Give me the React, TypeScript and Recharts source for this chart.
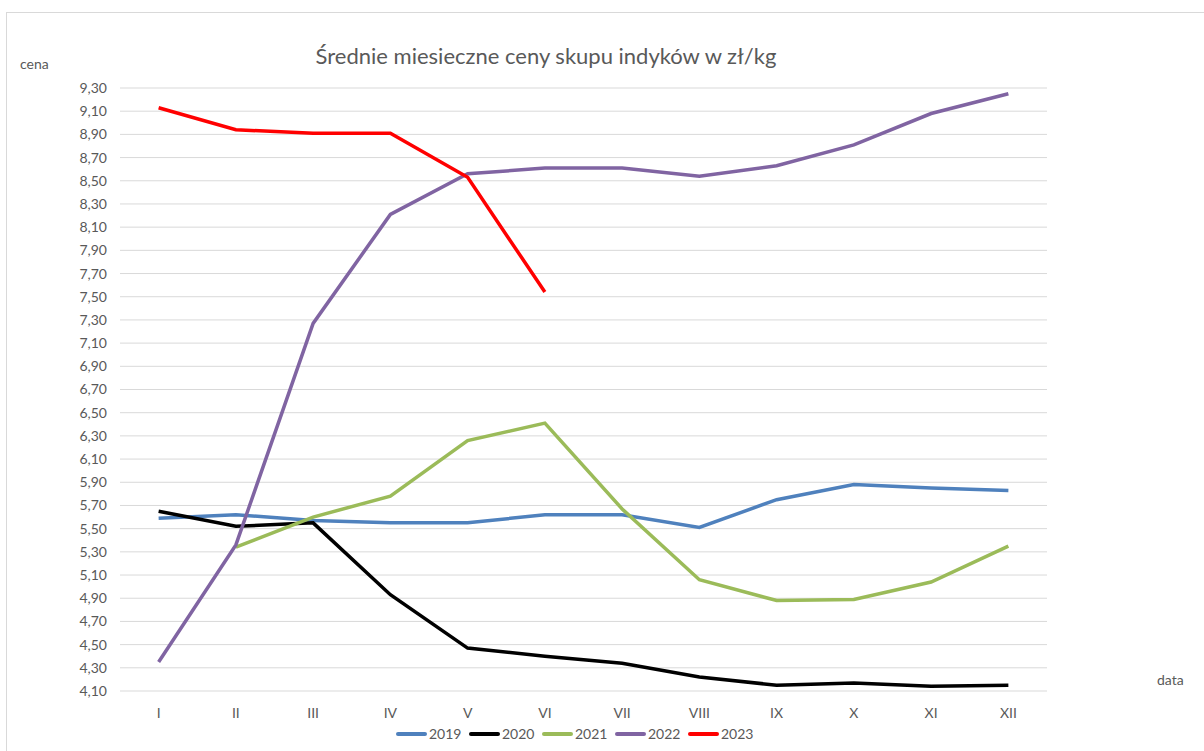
import { LineChart, Line, XAxis, YAxis, CartesianGrid } from 'recharts';

const months = ['I', 'II', 'III', 'IV', 'V', 'VI', 'VII', 'VIII', 'IX', 'X', 'XI', 'XII'];

const y2019 = [5.59, 5.62, 5.57, 5.55, 5.55, 5.62, 5.62, 5.51, 5.75, 5.88, 5.85, 5.83];
const y2020 = [5.65, 5.52, 5.55, 4.93, 4.47, 4.40, 4.34, 4.22, 4.15, 4.17, 4.14, 4.15];
const y2021 = [null, 5.34, 5.60, 5.78, 6.26, 6.41, 5.67, 5.06, 4.88, 4.89, 5.04, 5.35];
const y2022 = [4.35, 5.36, 7.27, 8.21, 8.56, 8.61, 8.61, 8.54, 8.63, 8.81, 9.08, 9.25];
const y2023 = [9.13, 8.94, 8.91, 8.91, 8.53, 7.54, null, null, null, null, null, null];

const yTicks = [4.1, 4.3, 4.5, 4.7, 4.9, 5.1, 5.3, 5.5, 5.7, 5.9, 6.1, 6.3, 6.5, 6.7, 6.9, 7.1, 7.3, 7.5, 7.7, 7.9, 8.1, 8.3, 8.5, 8.7, 8.9, 9.1, 9.3];

const series = [
  { key: 'y2019', name: '2019', color: '#4F81BD' },
  { key: 'y2020', name: '2020', color: '#000000' },
  { key: 'y2021', name: '2021', color: '#9BBB59' },
  { key: 'y2022', name: '2022', color: '#8064A2' },
  { key: 'y2023', name: '2023', color: '#FF0000' },
];

const data = months.map((m, i) => ({
  month: m,
  y2019: y2019[i],
  y2020: y2020[i],
  y2021: y2021[i],
  y2022: y2022[i],
  y2023: y2023[i],
}));

const FONT = 'Lato, "Open Sans", sans-serif';
const TEXT = '#595959';

// Excel style: categories sit in the middle of equal bands
const PLOT_W = 927;
const HALF_BAND = PLOT_W / months.length / 2;

export default function App() {
  return (
    <div style={{ position: 'absolute', left: 0, top: 0, width: 1204, height: 751, background: '#fff', overflow: 'hidden' }}>
      {/* chart frame */}
      <div style={{ position: 'absolute', left: 6, top: 12, width: 1200, height: 745, border: '1px solid #d9d9d9' }} />

      <div style={{ position: 'absolute', left: 546, top: 42, transform: 'translateX(-50%)', whiteSpace: 'nowrap', fontFamily: FONT, fontSize: 22, color: TEXT }}>
        Średnie miesieczne ceny skupu indyków w zł/kg
      </div>
      <div style={{ position: 'absolute', left: 20, top: 55, fontFamily: FONT, fontSize: 14, color: TEXT }}>cena</div>
      <div style={{ position: 'absolute', left: 1157, top: 671, fontFamily: FONT, fontSize: 14, color: TEXT }}>data</div>

      <LineChart
        width={1204}
        height={751}
        data={data}
        margin={{ top: 88, right: 157, bottom: 30, left: 0 }}
        style={{ position: 'absolute', left: 0, top: 0 }}
      >
        <CartesianGrid vertical={false} stroke="#d9d9d9" strokeWidth={1} />
        <XAxis
          dataKey="month"
          axisLine={false}
          tickLine={false}
          tickMargin={11}
          height={30}
          interval={0}
          padding={{ left: HALF_BAND, right: HALF_BAND }}
          tick={{ fontSize: 14, fill: TEXT, fontFamily: FONT }}
        />
        <YAxis
          type="number"
          domain={[4.1, 9.3]}
          ticks={yTicks}
          width={120}
          axisLine={false}
          tickLine={false}
          tickMargin={7}
          interval={0}
          tickFormatter={(v: number) => v.toFixed(2).replace('.', ',')}
          tick={{ fontSize: 14, fill: TEXT, fontFamily: FONT }}
        />
        {series.map(s => (
          <Line
            key={s.key}
            type="linear"
            dataKey={s.key}
            name={s.name}
            stroke={s.color}
            strokeWidth={3.5}
            dot={false}
            activeDot={false}
            connectNulls={false}
            isAnimationActive={false}
          />
        ))}
      </LineChart>

      {/* Legend */}
      <div style={{ position: 'absolute', left: 396, top: 725, display: 'flex', fontFamily: FONT, fontSize: 14, color: TEXT }}>
        {series.map(s => (
          <div key={s.key} style={{ display: 'flex', alignItems: 'center', width: 73 }}>
            <span style={{ width: 31, height: 4, borderRadius: 2, background: s.color, marginRight: 2 }} />
            <span>{s.name}</span>
          </div>
        ))}
      </div>
    </div>
  );
}
